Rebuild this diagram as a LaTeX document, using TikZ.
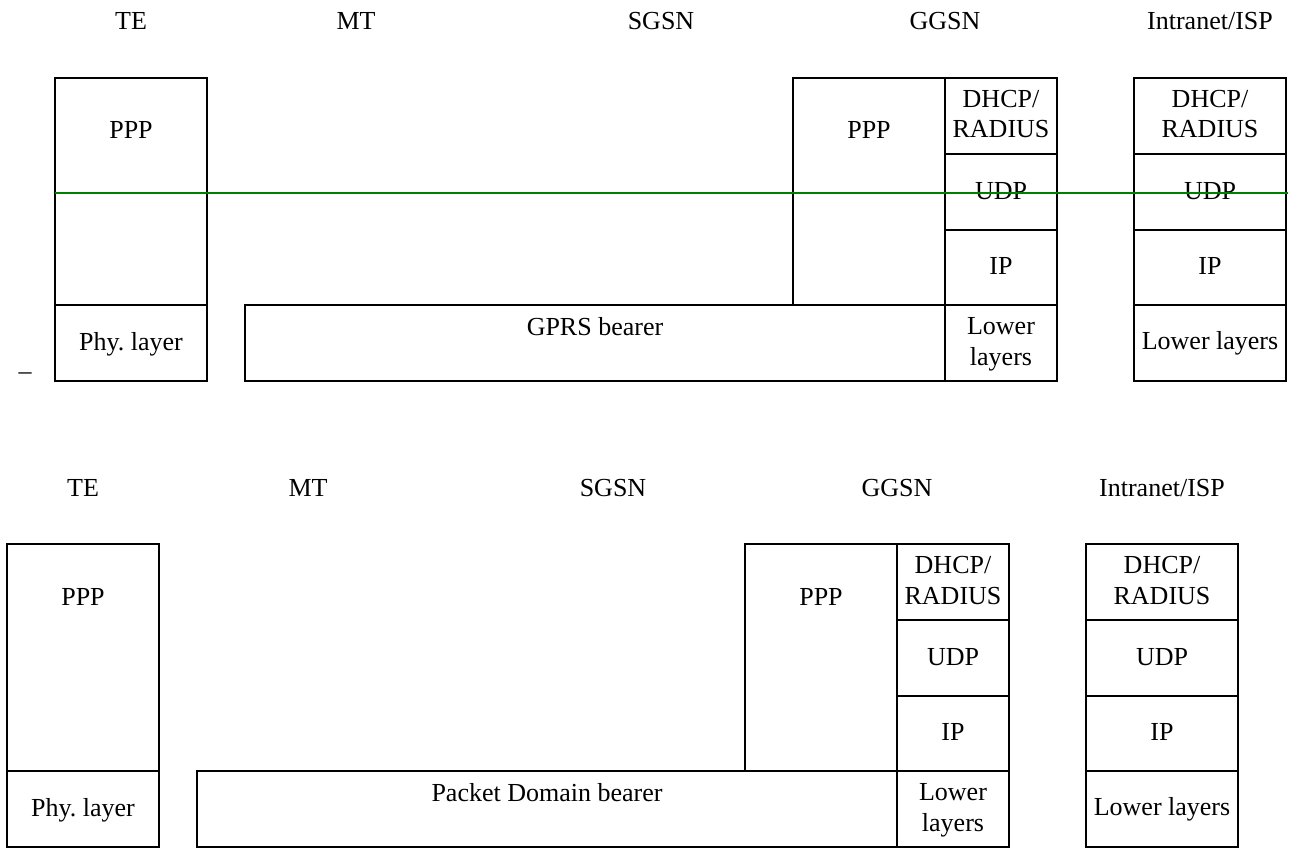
\documentclass[tikz,border=0pt]{standalone}
\usepackage{fontspec}
\setmainfont{Liberation Serif}
\definecolor{lgreen}{RGB}{0,128,0}
\tikzset{
  stackbox/.style={draw, line width=2pt, inner sep=0pt, outer sep=0pt, anchor=north west},
  txt/.style={anchor=base, inner sep=0pt, outer sep=0pt, align=center, font=\fontsize{26}{31}\selectfont},
}
\newcommand\protostack[2]{%
  \node[stackbox, minimum width=152pt, minimum height=227pt] (#1teppp) at (55,78) {};
  \node[stackbox, minimum width=152pt, minimum height=76pt] (#1tephy) at (55,305) {};
  \node[stackbox, minimum width=700pt, minimum height=76pt] (#1bearer) at (245,305) {};
  \node[stackbox, minimum width=152pt, minimum height=227pt] (#1ggppp) at (793,78) {};
  \node[stackbox, minimum width=112pt, minimum height=76pt] (#1gdhcp) at (945,78) {};
  \node[stackbox, minimum width=112pt, minimum height=76pt] (#1gudp) at (945,154) {};
  \node[stackbox, minimum width=112pt, minimum height=75pt] (#1gip) at (945,230) {};
  \node[stackbox, minimum width=112pt, minimum height=76pt] (#1glow) at (945,305) {};
  \node[stackbox, minimum width=152pt, minimum height=76pt] (#1idhcp) at (1134,78) {};
  \node[stackbox, minimum width=152pt, minimum height=76pt] (#1iudp) at (1134,154) {};
  \node[stackbox, minimum width=152pt, minimum height=75pt] (#1iip) at (1134,230) {};
  \node[stackbox, minimum width=152pt, minimum height=76pt] (#1ilow) at (1134,305) {};
  % texts
  \node[txt] (#1tepppt) at (131,139) {PPP};
  \node[txt] (#1tephyt) at (131,350) {Phy.\ layer};
  \node[txt] (#1bearert) at (595,335) {#2};
  \node[txt] (#1ggpppt) at (869,139) {PPP};
  \node[txt] (#1gdhcpt) at (1001,138) {DHCP/\\RADIUS};
  \node[txt] (#1gudpt) at (1001,199) {UDP};
  \node[txt] (#1gipt) at (1001,274) {IP};
  \node[txt] (#1glowt) at (1001,365) {Lower\\layers};
  \node[txt] (#1idhcpt) at (1210,138) {DHCP/\\RADIUS};
  \node[txt] (#1iudpt) at (1210,199) {UDP};
  \node[txt] (#1iipt) at (1210,274) {IP};
  \node[txt] (#1ilowt) at (1210,349.5) {Lower layers};
  % headings
  \node[txt] (#1hte) at (131,30) {TE};
  \node[txt] (#1hmt) at (356,30) {MT};
  \node[txt] (#1hsgsn) at (661,30) {SGSN};
  \node[txt] (#1hggsn) at (945,30) {GGSN};
  \node[txt] (#1hisp) at (1210,30) {Intranet/ISP};
}
\begin{document}
\begin{tikzpicture}[x=1pt, y=-1pt]
  \useasboundingbox (0,0) rectangle (1292,848);
  \protostack{a}{GPRS bearer}
  \node[txt] (dash) at (25,379) {–};
  \coordinate (gstart) at (55,193);
  \coordinate (gend) at (1288,193);
  \draw[lgreen, line width=2pt] (gstart) -- (gend);
  \begin{scope}[shift={(-48,466)}]
    \protostack{b}{Packet Domain bearer}
  \end{scope}
\end{tikzpicture}
\end{document}
